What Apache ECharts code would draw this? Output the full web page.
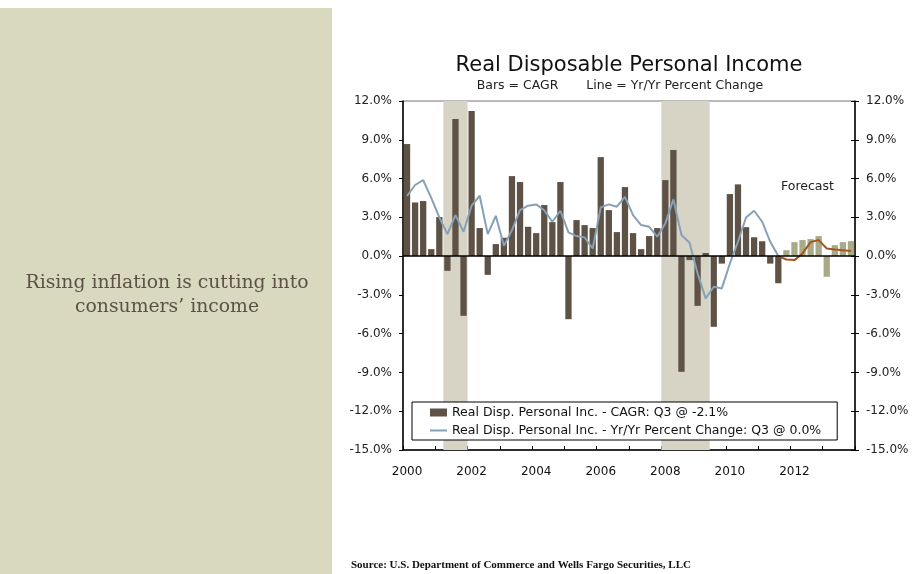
<!DOCTYPE html>
<html>
<head>
<meta charset="utf-8">
<script src="https://cdn.jsdelivr.net/npm/echarts@6/dist/echarts.min.js"></script>
<style>
html,body{margin:0;padding:0;background:#fff;}
#chart{width:915px;height:574px;}
</style>
</head>
<body>
<div id="chart"></div>
<script>
// ---- data ----
const years = [2000, 2001, 2002, 2003, 2004, 2005, 2006, 2007, 2008, 2009, 2010, 2011, 2012, 2013];
const quarters = ['Q1', 'Q2', 'Q3', 'Q4'];
const categories = years.flatMap(y => quarters.map(q => y + q));

// CAGR bars (2000Q1 - 2011Q3)
const cagrActual = [
  8.67, 4.15, 4.26, 0.54,
  3.02, -1.14, 10.6, -4.62,
  11.23, 2.17, -1.45, 0.93,
  1.42, 6.19, 5.73, 2.27,
  1.78, 3.95, 2.63, 5.73,
  -4.88, 2.79, 2.40, 2.17,
  7.66, 3.56, 1.86, 5.34,
  1.78, 0.54, 1.55, 2.17,
  5.88, 8.21, -8.95, -0.31,
  -3.85, 0.24, -5.47, -0.58,
  4.8, 5.55, 2.24, 1.46,
  1.15, -0.58, -2.1
];
// CAGR forecast bars (2011Q4 - 2013Q4)
const cagrForecast = [0.46, 1.08, 1.24, 1.32, 1.55, -1.6, 0.85, 1.08, 1.16];

// Yr/Yr line (2000Q1 - 2011Q3)
const yoyActual = [
  4.65, 5.50, 5.88, 4.5,
  3.0, 1.70, 3.17, 1.88,
  3.90, 4.67, 1.70, 3.12,
  0.80, 2.01, 3.56, 3.90,
  4.0, 3.55, 2.66, 3.51,
  1.83, 1.55, 1.45, 0.59,
  3.77, 4.0, 3.82, 4.59,
  3.17, 2.40, 2.27, 1.50,
  2.53, 4.39, 1.63, 1.03,
  -1.34, -3.28, -2.37, -2.5,
  -0.57, 1.11, 2.99, 3.51,
  2.66, 1.11, 0.0
];
// Yr/Yr forecast line (2011Q3 - 2013Q4)
const yoyForecast = [0.0, -0.26, -0.31, 0.21, 1.08, 1.24, 0.59, 0.52, 0.46, 0.39];

const recessions = [['2001Q2', '2001Q4'], ['2008Q1', '2009Q2']];
const yMin = -15, yMax = 12, yStep = 3;

const nameBars = 'Real Disp. Personal Inc. - CAGR: Q3 @ -2.1%';
const nameLine = 'Real Disp. Personal Inc. - Yr/Yr Percent Change: Q3 @ 0.0%';

// ---- build ----
const nQ = categories.length;
const pad = (arr, before, total) => {
  const out = new Array(before).fill(null).concat(arr);
  while (out.length < total) out.push(null);
  return out;
};
const barsA = pad(cagrActual, 0, nQ);
const barsF = pad(cagrForecast, nQ - cagrForecast.length, nQ);
const lineA = pad(yoyActual, 0, nQ);
const lineF = pad(yoyForecast, nQ - yoyForecast.length, nQ);

const recAreas = recessions.map(r => [
  { xAxis: categories.indexOf(r[0]) },
  { xAxis: categories.indexOf(r[1]) + 1 }
]);

const FONT = 'DejaVu Sans';
const chart = echarts.init(document.getElementById('chart'), null, { renderer: 'canvas' });

const yLabelFmt = v => v.toFixed(1) + '%';

chart.setOption({
  animation: false,
  backgroundColor: '#ffffff',
  textStyle: { fontFamily: FONT },
  grid: {
    left: 403, right: 60, top: 101, height: 349,
    show: true, borderColor: '#777', borderWidth: 1, backgroundColor: 'transparent'
  },
  legend: {
    orient: 'vertical',
    left: 412, top: 402,
    padding: [4, 16, 3, 17],
    itemGap: 5,
    itemWidth: 17, itemHeight: 8,
    backgroundColor: '#fff',
    borderColor: '#000', borderWidth: 1,
    textStyle: { fontFamily: FONT, fontSize: 12.5, color: '#111' },
    data: [
      { name: nameBars, icon: 'rect' },
      { name: nameLine, icon: 'inherit', itemStyle: { opacity: 0 } }
    ]
  },
  xAxis: [
    {
      type: 'category',
      data: categories,
      boundaryGap: true,
      axisLine: { show: true, onZero: false, lineStyle: { color: '#000', width: 1.5 } },
      axisTick: { show: true, inside: true, length: 4, interval: 3, lineStyle: { color: '#000' } },
      axisLabel: {
        interval: 7, margin: 16, color: '#111', fontSize: 12, fontFamily: FONT,
        formatter: v => v.slice(0, 4)
      },
      splitLine: { show: false }
    },
    {
      type: 'value', min: 0, max: nQ, show: false
    }
  ],
  yAxis: [
    {
      type: 'value', position: 'left', min: yMin, max: yMax, interval: yStep,
      axisLine: { show: true, lineStyle: { color: '#000', width: 1.5 } },
      axisTick: { show: true, length: 4, lineStyle: { color: '#000' } },
      axisLabel: { formatter: yLabelFmt, margin: 11, color: '#222', fontSize: 12, fontFamily: FONT },
      splitLine: { show: false }
    },
    {
      type: 'value', position: 'right', min: yMin, max: yMax, interval: yStep,
      axisLine: { show: true, lineStyle: { color: '#000', width: 1.5 } },
      axisTick: { show: true, length: 4, lineStyle: { color: '#000' } },
      axisLabel: { formatter: yLabelFmt, margin: 11, color: '#222', fontSize: 12, fontFamily: FONT },
      splitLine: { show: false }
    },
    {
      type: 'value', position: 'right', min: yMin, max: yMax, interval: yStep,
      axisLine: { show: false },
      axisTick: { show: true, inside: true, length: 4, lineStyle: { color: '#000' } },
      axisLabel: { show: false },
      splitLine: { show: false }
    }
  ],
  series: [
    {
      name: 'recession', type: 'line', xAxisIndex: 1, yAxisIndex: 0,
      data: [], z: 1, silent: true,
      markArea: { silent: true, itemStyle: { color: '#d7d3c5' }, data: recAreas }
    },
    {
      name: nameBars, type: 'bar', data: barsA, z: 2,
      barWidth: '78%', barGap: '-100%',
      itemStyle: { color: '#5e5246' },
      markLine: {
        silent: true, symbol: 'none', label: { show: false },
        lineStyle: { color: '#000', width: 1.5, type: 'solid' },
        data: [{ yAxis: 0 }]
      }
    },
    {
      name: 'Forecast CAGR', type: 'bar', data: barsF, z: 2,
      barWidth: '78%', barGap: '-100%',
      itemStyle: { color: '#a9ab88' }
    },
    {
      name: nameLine, type: 'line', data: lineA, z: 3,
      symbol: 'none', connectNulls: false,
      lineStyle: { color: '#86a1b6', width: 2 },
      itemStyle: { color: '#86a1b6' }
    },
    {
      name: 'Forecast YoY', type: 'line', data: lineF, z: 3,
      symbol: 'none',
      lineStyle: { color: '#a4561c', width: 2 },
      itemStyle: { color: '#a4561c' }
    }
  ],
  graphic: [
    { type: 'rect', left: 0, top: 8, shape: { width: 332, height: 566 }, style: { fill: '#d9d9bf' }, z: -10 },
    { type: 'text', x: 167, y: 283, style: { text: 'Rising inflation is cutting into', fill: '#5b5245', font: '18.8px "DejaVu Serif"', textAlign: 'center', textVerticalAlign: 'middle' } },
    { type: 'text', x: 167, y: 307, style: { text: 'consumers\u2019 income', fill: '#5b5245', font: '18.8px "DejaVu Serif"', textAlign: 'center', textVerticalAlign: 'middle' } },
    { type: 'text', x: 629, y: 66, style: { text: 'Real Disposable Personal Income', fill: '#111', font: '21px "DejaVu Sans"', textAlign: 'center', textVerticalAlign: 'middle' } },
    { type: 'text', x: 620, y: 86, style: { text: 'Bars = CAGR       Line = Yr/Yr Percent Change', fill: '#222', font: '12.5px "DejaVu Sans"', textAlign: 'center', textVerticalAlign: 'middle' } },
    { type: 'text', x: 781, y: 187, style: { text: 'Forecast', fill: '#222', font: '12.5px "DejaVu Sans"', textAlign: 'left', textVerticalAlign: 'middle' } },
    { type: 'text', x: 351, y: 565, style: { text: 'Source: U.S. Department of Commerce and Wells Fargo Securities, LLC', fill: '#111', font: 'bold 11px "Liberation Serif"', textAlign: 'left', textVerticalAlign: 'middle' } }
  ]
});
</script>
</body>
</html>
